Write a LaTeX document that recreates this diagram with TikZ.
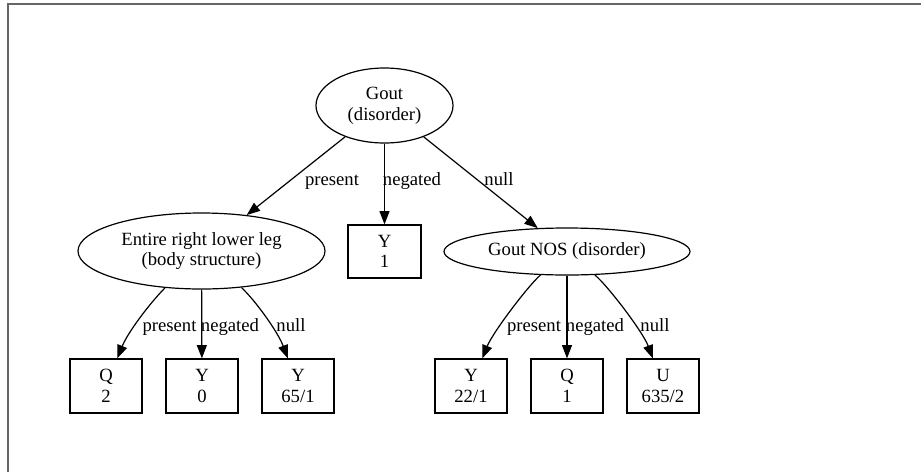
\documentclass[tikz,border=0pt]{standalone}
\usepackage{fontspec}
\setmainfont{Liberation Serif}
\usetikzlibrary{shapes.geometric,arrows.meta}
\begin{document}
\begin{tikzpicture}[x=0.75pt,y=-0.75pt,
 every node/.style={font=\fontsize{14}{15.5}\selectfont, align=center},
 ell/.style={draw, ellipse, inner sep=0pt, line width=0.9pt},
 box/.style={draw, rectangle, minimum width=54pt, minimum height=40.5pt, inner sep=0pt, line width=0.9pt},
 conn/.style={line width=0.9pt, -{Triangle[length=10pt,width=7.5pt]}},
 lbl/.style={anchor=base, inner sep=0pt},
]
\useasboundingbox (0,0) rectangle (921,472);
\draw[black!60, line width=0.9pt] (8,472) -- (8,4) -- (921,4);

\node[ell, minimum width=102.75pt, minimum height=56.25pt] (g) at (384.5,105.5) {Gout\\(disorder)};
\node[ell, minimum width=185.25pt, minimum height=57pt] (e) at (201.5,251) {Entire right lower leg\\(body structure)};
\node[box, minimum width=54.75pt, minimum height=39.75pt] (y1) at (384.5,251.5) {Y\\1};
\node[ell, minimum width=184.5pt, minimum height=35.25pt] (n) at (567,251.5) {Gout NOS (disorder)};

\node[box] (q2) at (106,386) {Q\\2};
\node[box] (y0) at (202,386) {Y\\0};
\node[box] (y65) at (298,386) {Y\\65/1};
\node[box] (y22) at (471,386) {Y\\22/1};
\node[box] (q1) at (567,386) {Q\\1};
\node[box] (u) at (663,386) {U\\635/2};

\draw[conn] (g) -- (e);
\draw[conn] (g) -- (y1);
\draw[conn] (g) -- (n);

\draw[conn] (e) .. controls (150,303) and (128,332) .. (q2);
\draw[conn] (e) -- (y0);
\draw[conn] (e) .. controls (255,300) and (278,332) .. (y65);

\draw[conn] (n) .. controls (528,286) and (493,332) .. (y22);
\draw[conn] (n) -- (q1);
\draw[conn] (n) .. controls (608,286) and (643,332) .. (u);

\node[lbl] (l1) at (332,185) {present};
\node[lbl] (l2) at (412,185) {negated};
\node[lbl] (l3) at (499,185) {null};
\node[lbl] (l4) at (169.5,331) {present};
\node[lbl] (l5) at (230,331) {negated};
\node[lbl] (l6) at (291,331) {null};
\node[lbl] (l7) at (534,331) {present};
\node[lbl] (l8) at (595,331) {negated};
\node[lbl] (l9) at (655,331) {null};
\end{tikzpicture}
\end{document}
